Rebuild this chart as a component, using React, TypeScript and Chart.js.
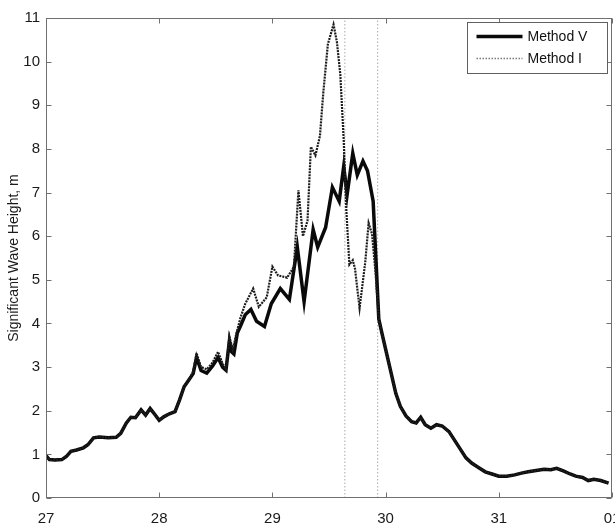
import { useEffect, useRef } from "react";
import { Chart, registerables } from "chart.js";

Chart.register(...registerables);

// Shared rise before the two methods separate (days of the month)
const onsetDays = [27.0, 27.03, 27.08, 27.14, 27.18, 27.22, 27.27, 27.33, 27.37, 27.42, 27.47, 27.55, 27.62, 27.66, 27.71, 27.75, 27.79, 27.84, 27.88, 27.92, 27.96, 28.0, 28.04, 28.09, 28.14, 28.18, 28.22, 28.26];
const onsetHs = [0.97, 0.88, 0.87, 0.88, 0.95, 1.07, 1.1, 1.15, 1.22, 1.38, 1.4, 1.38, 1.39, 1.48, 1.72, 1.85, 1.84, 2.02, 1.9, 2.05, 1.92, 1.78, 1.86, 1.93, 1.98, 2.25, 2.55, 2.7];

// Storm peak, Method V
const peakDaysV = [28.3, 28.33, 28.37, 28.42, 28.47, 28.52, 28.56, 28.59, 28.62, 28.64, 28.66, 28.69, 28.72, 28.76, 28.81, 28.86, 28.93, 28.99, 29.07, 29.15, 29.22, 29.28, 29.36, 29.4, 29.47, 29.53, 29.59, 29.63, 29.66, 29.71, 29.75, 29.8, 29.84, 29.89];
const peakHsV = [2.85, 3.22, 2.92, 2.86, 3.02, 3.22, 3.0, 2.93, 3.6, 3.35, 3.3, 3.78, 3.95, 4.2, 4.32, 4.05, 3.93, 4.45, 4.8, 4.55, 5.75, 4.5, 6.15, 5.75, 6.2, 7.12, 6.8, 7.6, 6.95, 7.9, 7.4, 7.72, 7.5, 6.8];

// Storm peak, Method I
const peakDaysI = [28.3, 28.33, 28.37, 28.42, 28.47, 28.52, 28.56, 28.59, 28.62, 28.65, 28.68, 28.72, 28.76, 28.8, 28.83, 28.88, 28.95, 29.0, 29.05, 29.13, 29.19, 29.23, 29.27, 29.31, 29.34, 29.38, 29.42, 29.45, 29.49, 29.54, 29.57, 29.6, 29.63, 29.65, 29.68, 29.71, 29.73, 29.77, 29.82, 29.85, 29.88, 29.91];
const peakHsI = [2.9, 3.32, 3.0, 2.95, 3.1, 3.35, 3.08, 2.95, 3.7, 3.4, 3.75, 4.15, 4.45, 4.65, 4.8, 4.38, 4.6, 5.3, 5.1, 5.05, 5.3, 7.05, 6.0, 6.35, 8.05, 7.85, 8.3, 9.3, 10.4, 10.85, 10.45, 9.7, 8.2, 6.75, 5.35, 5.45, 5.25, 4.35, 5.4, 6.3, 6.05, 5.2];

// Shared decay after the peak
const decayDays = [29.94, 29.97, 30.01, 30.05, 30.09, 30.13, 30.18, 30.23, 30.27, 30.31, 30.35, 30.4, 30.45, 30.5, 30.56, 30.61, 30.66, 30.71, 30.76, 30.82, 30.88, 30.94, 31.0, 31.07, 31.14, 31.2, 31.26, 31.33, 31.4, 31.46, 31.51, 31.57, 31.63, 31.68, 31.74, 31.79, 31.84, 31.9, 31.97];
const decayHs = [4.1, 3.75, 3.3, 2.85, 2.4, 2.1, 1.88, 1.75, 1.72, 1.85, 1.68, 1.6, 1.68, 1.65, 1.52, 1.32, 1.12, 0.92, 0.8, 0.7, 0.6, 0.55, 0.5, 0.5, 0.53, 0.57, 0.6, 0.63, 0.66, 0.65, 0.68, 0.62, 0.55, 0.5, 0.47, 0.4, 0.43, 0.4, 0.34];

// Vertical reference times
const markerDays = [29.64, 29.93];

const xTickValues = [27, 28, 29, 30, 31, 32];
const xTickLabels = ["27", "28", "29", "30", "31", "01"];
const yTickValues = [0, 1, 2, 3, 4, 5, 6, 7, 8, 9, 10, 11];

const FONT = "'Liberation Sans', Arial, Helvetica, sans-serif";

const toPoints = (xs: number[], ys: number[]) => xs.map((x, i) => ({ x, y: ys[i] }));

const methodV = toPoints(
  [...onsetDays, ...peakDaysV, ...decayDays],
  [...onsetHs, ...peakHsV, ...decayHs]
);
const methodI = toPoints(
  [...onsetDays, ...peakDaysI, ...decayDays],
  [...onsetHs, ...peakHsI, ...decayHs]
);

// Box frame with inward ticks on all four sides, plus an in-axes legend
const framePlugin = {
  id: "matlabFrame",
  afterDraw(chart: any) {
    const { ctx, chartArea: a, scales } = chart;
    const xs = scales.x;
    const ys = scales.y;
    const L = Math.round(a.left) + 0.5;
    const R = Math.round(a.right) - 0.5;
    const T = Math.round(a.top) + 0.5;
    const B = Math.round(a.bottom) - 0.5;
    const tl = 5;
    ctx.save();
    ctx.strokeStyle = "#707070";
    ctx.lineWidth = 1;
    ctx.setLineDash([]);
    ctx.strokeRect(L, T, R - L, B - T);
    ctx.beginPath();
    xTickValues.forEach((v) => {
      const px = Math.round(xs.getPixelForValue(v)) + 0.5;
      ctx.moveTo(px, B);
      ctx.lineTo(px, B - tl);
      ctx.moveTo(px, T);
      ctx.lineTo(px, T + tl);
    });
    yTickValues.forEach((v) => {
      const py = Math.round(ys.getPixelForValue(v)) + 0.5;
      ctx.moveTo(L, py);
      ctx.lineTo(L + tl, py);
      ctx.moveTo(R, py);
      ctx.lineTo(R - tl, py);
    });
    ctx.stroke();

    // legend
    const entries = chart.data.datasets.filter((d: any) => d.label);
    const boxW = 140;
    const rowH = 22;
    const boxH = entries.length * rowH + 7;
    const bx = Math.round(a.right - 5 - boxW) + 0.5;
    const by = Math.round(a.top + 4) + 0.5;
    ctx.fillStyle = "#ffffff";
    ctx.fillRect(bx, by, boxW, boxH);
    ctx.strokeStyle = "#606060";
    ctx.lineWidth = 1;
    ctx.strokeRect(bx, by, boxW, boxH);
    ctx.font = `14px ${FONT}`;
    ctx.textBaseline = "middle";
    ctx.textAlign = "left";
    entries.forEach((d: any, i: number) => {
      const cy = by + 14 + i * rowH;
      ctx.beginPath();
      ctx.strokeStyle = d.legendColor || d.borderColor;
      ctx.lineWidth = d.legendWidth || d.borderWidth;
      ctx.setLineDash(d.legendDash || d.borderDash || []);
      ctx.moveTo(bx + 9, cy);
      ctx.lineTo(bx + 55, cy);
      ctx.stroke();
      ctx.setLineDash([]);
      ctx.fillStyle = "#111";
      ctx.fillText(d.label, bx + 60, cy + 1);
    });
    ctx.restore();
  },
};

export default function App() {
  const canvasRef = useRef<HTMLCanvasElement | null>(null);

  useEffect(() => {
    document.body.style.margin = "0";
    const canvas = canvasRef.current;
    if (!canvas) return;

    const markerSets = markerDays.map((d) => ({
      label: "",
      data: [
        { x: d, y: 0 },
        { x: d, y: 11 },
      ],
      borderColor: "#a8a8a8",
      borderWidth: 1,
      borderDash: [1.5, 2],
      pointRadius: 0,
      order: 3,
    }));

    const chart = new Chart(canvas, {
      type: "line",
      data: {
        datasets: [
          {
            label: "Method V",
            data: methodV,
            borderColor: "#0a0a0a",
            borderWidth: 3.5,
            pointRadius: 0,
            tension: 0,
            order: 2,
          },
          {
            label: "Method I",
            data: methodI,
            borderColor: "#1c1c1c",
            borderWidth: 2.2,
            borderDash: [2, 1],
            legendColor: "#7a7a7a",
            legendWidth: 1.5,
            legendDash: [1.5, 1.5],
            pointRadius: 0,
            tension: 0,
            order: 1,
          } as any,
          ...markerSets,
        ],
      },
      options: {
        animation: false,
        responsive: false,
        events: [],
        layout: { padding: { top: 18, right: 3, left: 0, bottom: 0 } },
        plugins: {
          legend: { display: false },
          tooltip: { enabled: false },
        },
        scales: {
          x: {
            type: "linear",
            min: 27,
            max: 32,
            afterBuildTicks: (s: any) => {
              s.ticks = xTickValues.map((v) => ({ value: v }));
            },
            afterFit: (s: any) => {
              s.height = 34;
              s.paddingLeft = 0;
              s.paddingRight = 0;
            },
            grid: { display: false, drawTicks: false },
            border: { display: false },
            ticks: {
              padding: 12,
              color: "#1a1a1a",
              font: { family: FONT, size: 15 },
              maxRotation: 0,
              autoSkip: false,
              callback: (v: any) => xTickLabels[xTickValues.indexOf(Number(v))] ?? "",
            },
          },
          y: {
            type: "linear",
            min: 0,
            max: 11,
            afterBuildTicks: (s: any) => {
              s.ticks = yTickValues.map((v) => ({ value: v }));
            },
            afterFit: (s: any) => {
              s.width = 46;
              s.paddingTop = 0;
              s.paddingBottom = 0;
            },
            grid: { display: false, drawTicks: false },
            border: { display: false },
            title: {
              display: true,
              text: "Significant Wave Height, m",
              color: "#1a1a1a",
              font: { family: FONT, size: 14 },
              padding: { top: 6, bottom: 2 },
            },
            ticks: {
              padding: 6,
              color: "#1a1a1a",
              font: { family: FONT, size: 15 },
              autoSkip: false,
            },
          },
        },
      },
      plugins: [framePlugin],
    });

    return () => chart.destroy();
  }, []);

  return (
    <div style={{ position: "absolute", left: 0, top: 0, width: 615, height: 532, background: "#fff" }}>
      <canvas ref={canvasRef} width={615} height={532} style={{ display: "block", width: 615, height: 532 }} />
    </div>
  );
}
